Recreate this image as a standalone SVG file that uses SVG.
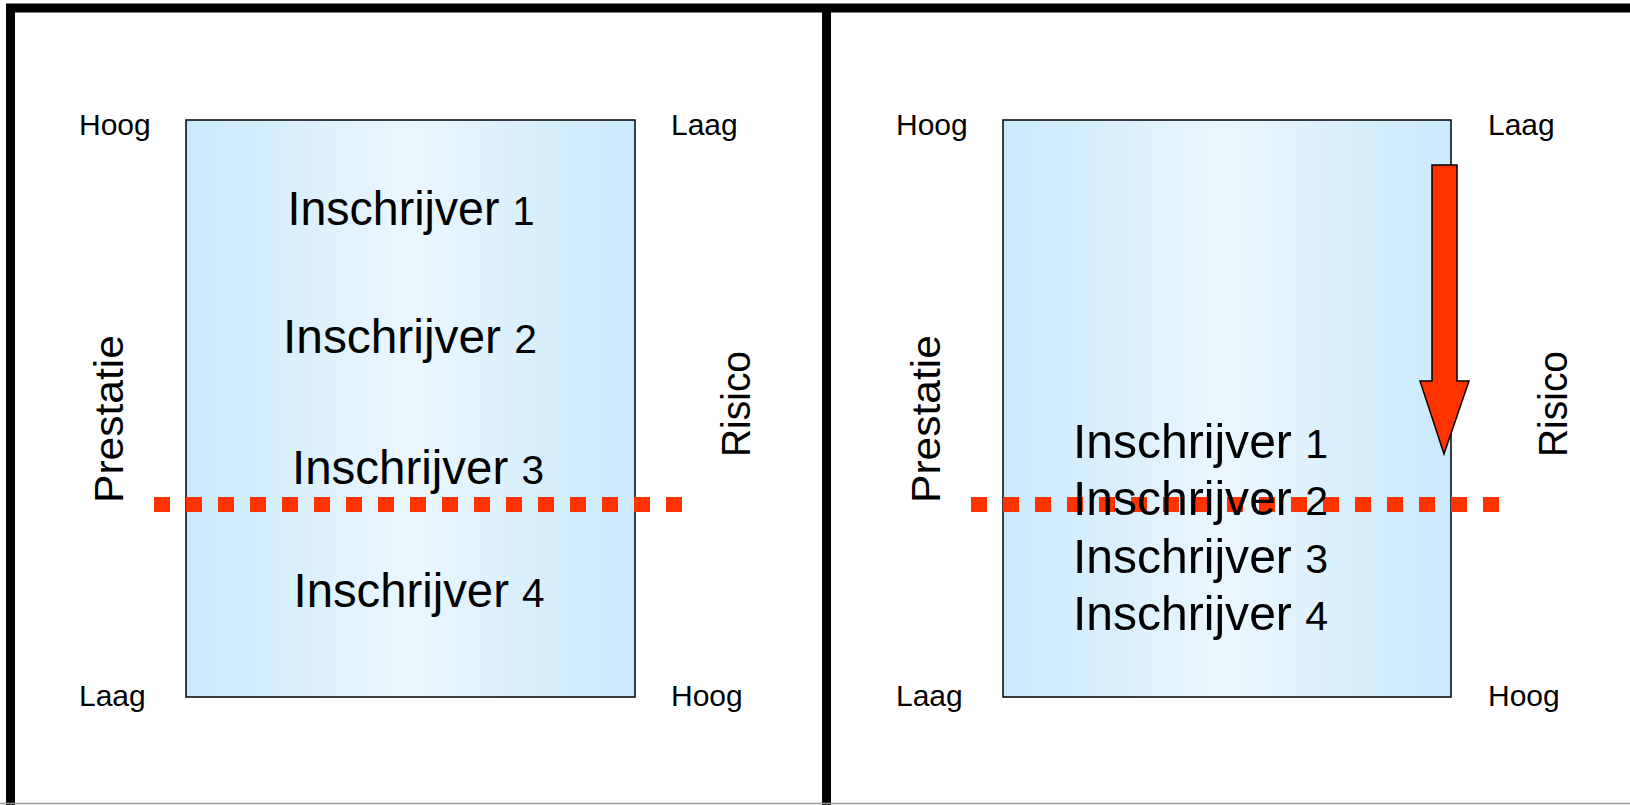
<svg xmlns="http://www.w3.org/2000/svg" width="1630" height="805" viewBox="0 0 1630 805">
<defs>
<linearGradient id="bg" x1="0" y1="0" x2="1" y2="0">
<stop offset="0" stop-color="#cbe9fc"/>
<stop offset="0.15" stop-color="#d3edfc"/>
<stop offset="0.5" stop-color="#ebf7fe"/>
<stop offset="0.85" stop-color="#d3edfc"/>
<stop offset="1" stop-color="#cbe9fc"/>
</linearGradient>
<style>
text{font-family:"Liberation Sans",Arial,sans-serif;fill:#000}
.corner{font-size:30px}
.axis{font-size:40px}
.ins{font-size:48px}
.num{font-size:41px}
.box{fill:url(#bg);stroke:#000;stroke-width:1.5}
.dots{stroke:#ff3300;stroke-width:15;stroke-dasharray:16 16;fill:none}
.frame{stroke:#000;stroke-width:9;fill:none}
</style>
</defs>
<rect width="1630" height="805" fill="#fff"/>
<g id="frame">
<line class="frame" x1="6" y1="8" x2="1630" y2="8"/>
<line class="frame" x1="10.5" y1="4" x2="10.5" y2="805"/>
<line class="frame" x1="826.5" y1="4" x2="826.5" y2="805"/>
<line x1="0" y1="803.5" x2="1630" y2="803.5" stroke="#999" stroke-width="1.5"/>
</g>
<g id="left-panel">
<rect id="left-box" class="box" x="186" y="120" width="449" height="577"/>
<g id="left-labels">
<text class="corner" x="79" y="135">Hoog</text>
<text class="corner" x="671" y="135">Laag</text>
<text class="corner" x="79" y="706">Laag</text>
<text class="corner" x="671" y="706">Hoog</text>
<text class="axis" transform="translate(123,503) rotate(-90)" textLength="168" lengthAdjust="spacingAndGlyphs">Prestatie</text>
<text class="axis" transform="translate(750,457) rotate(-90)" textLength="106" lengthAdjust="spacingAndGlyphs">Risico</text>
</g>
<line id="left-threshold" class="dots" x1="154" y1="504.5" x2="682" y2="504.5"/>
<g id="left-bidders">
<text class="ins" x="287.5" y="225" textLength="247" lengthAdjust="spacingAndGlyphs">Inschrijver <tspan class="num">1</tspan></text>
<text class="ins" x="283" y="353" textLength="254" lengthAdjust="spacingAndGlyphs">Inschrijver <tspan class="num">2</tspan></text>
<text class="ins" x="292" y="484" textLength="252" lengthAdjust="spacingAndGlyphs">Inschrijver <tspan class="num">3</tspan></text>
<text class="ins" x="293.5" y="607" textLength="251" lengthAdjust="spacingAndGlyphs">Inschrijver <tspan class="num">4</tspan></text>
</g>
</g>
<g id="right-panel">
<rect id="right-box" class="box" x="1003" y="120" width="448" height="577"/>
<g id="right-labels">
<text class="corner" x="896" y="135">Hoog</text>
<text class="corner" x="1488" y="135">Laag</text>
<text class="corner" x="896" y="706">Laag</text>
<text class="corner" x="1488" y="706">Hoog</text>
<text class="axis" transform="translate(940,503) rotate(-90)" textLength="168" lengthAdjust="spacingAndGlyphs">Prestatie</text>
<text class="axis" transform="translate(1567,457) rotate(-90)" textLength="106" lengthAdjust="spacingAndGlyphs">Risico</text>
</g>
<line id="right-threshold" class="dots" x1="971" y1="504.5" x2="1499" y2="504.5"/>
<g id="right-bidders">
<text class="ins" x="1073" y="458" textLength="255" lengthAdjust="spacingAndGlyphs">Inschrijver <tspan class="num">1</tspan></text>
<text class="ins" x="1073" y="515" textLength="255" lengthAdjust="spacingAndGlyphs">Inschrijver <tspan class="num">2</tspan></text>
<text class="ins" x="1073" y="573" textLength="255" lengthAdjust="spacingAndGlyphs">Inschrijver <tspan class="num">3</tspan></text>
<text class="ins" x="1073" y="630" textLength="255" lengthAdjust="spacingAndGlyphs">Inschrijver <tspan class="num">4</tspan></text>
</g>
</g>
<g id="connectors">
<polygon id="down-arrow" points="1432,165 1457,165 1457,381 1469,381 1444,454 1420,381 1432,381" fill="#ff3300" stroke="#000" stroke-width="1.5" stroke-linejoin="miter"/>
</g>
</svg>
